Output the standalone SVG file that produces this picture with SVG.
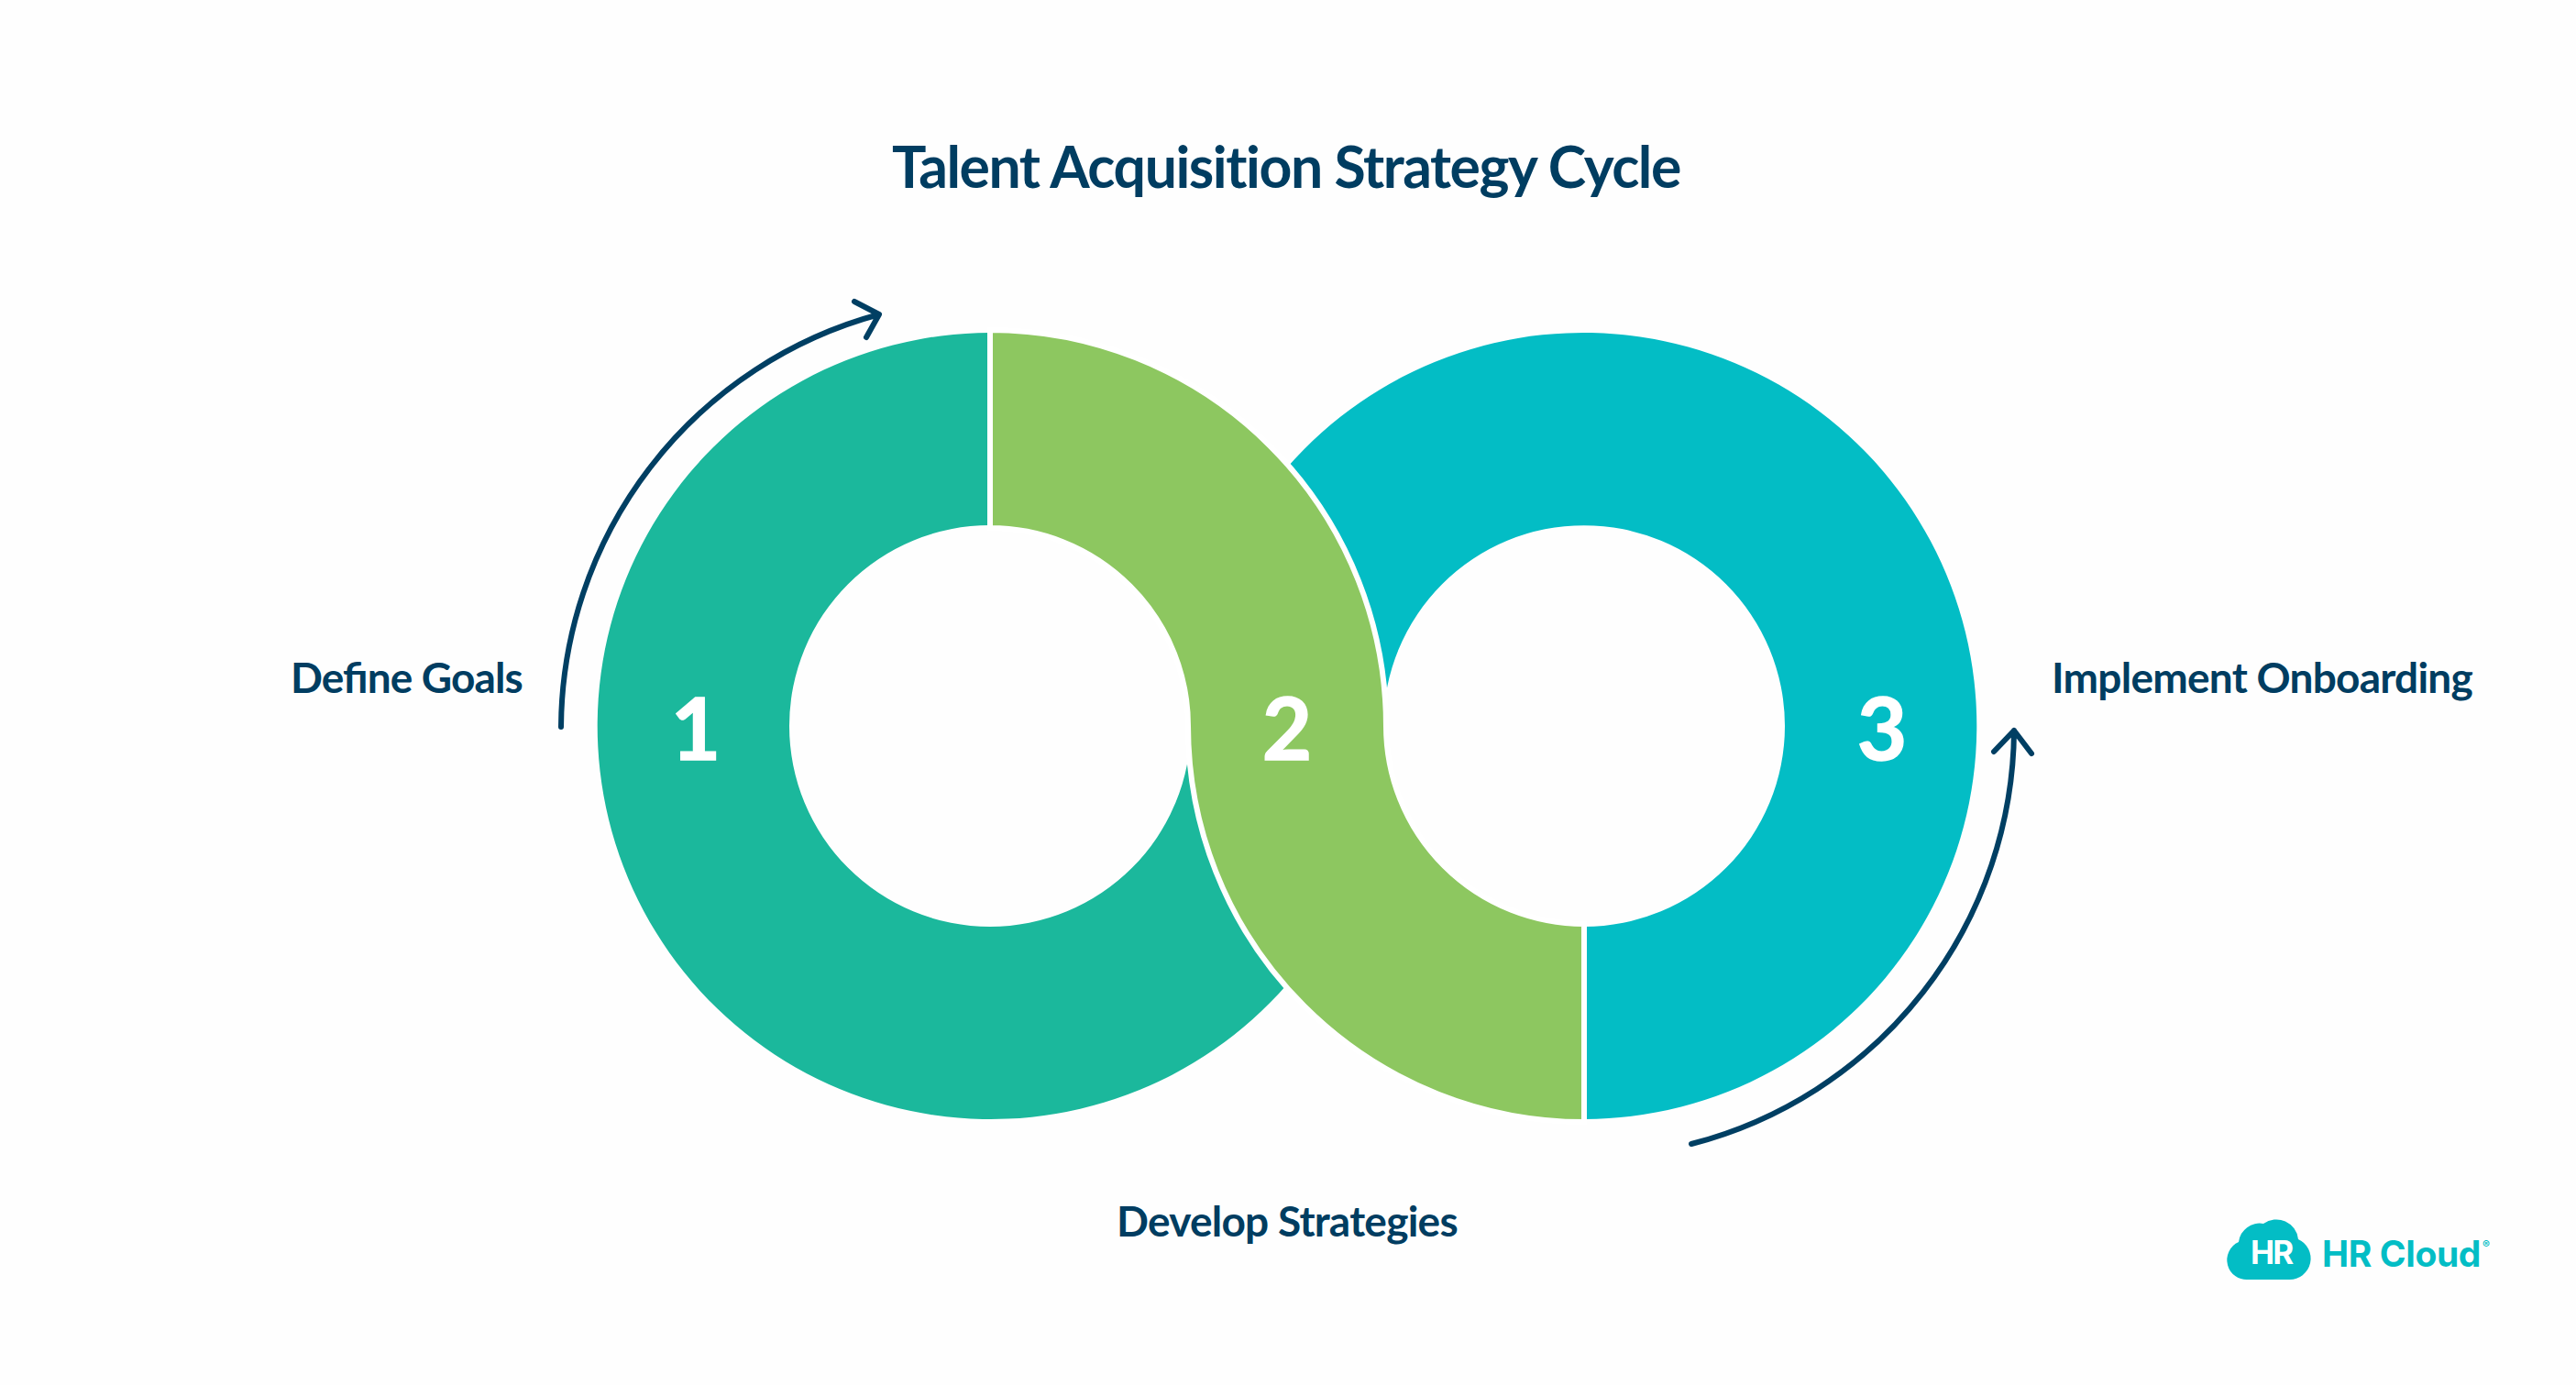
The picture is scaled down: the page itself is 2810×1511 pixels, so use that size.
<svg xmlns="http://www.w3.org/2000/svg" width="2810" height="1511" viewBox="0 0 2810 1511">
<style>
.t{font-family:Lato,"Liberation Sans",sans-serif;font-weight:700;fill:#003d61}
.l{font-size:46px;letter-spacing:-0.75px}
.n{font-family:Lato,"Liberation Sans",sans-serif;font-weight:700;font-size:94px;fill:#fff;stroke:#fff;stroke-width:1.5;text-anchor:middle}
.c{fill:none;stroke:#003f63;stroke-width:6;stroke-linecap:round;stroke-linejoin:round}
.b{font-family:Inter,"Liberation Sans",sans-serif;font-weight:700}
</style>
<rect width="2810" height="1511" fill="#fefefe"/>
<text id="title" class="t" x="973" y="205" font-size="62.5" letter-spacing="-1.45">Talent Acquisition Strategy Cycle</text>
<g id="node-1">
<path d="M1080,363A429,429 0 1 0 1404,1074L1404,792L1299,792A219,219 0 1 1 1080,573Z" fill="#1bb89c"/>
<text class="n" x="759" y="829">1</text>
<text class="t l" x="317" y="756" style="letter-spacing:-0.9px;font-variant-ligatures:common-ligatures;font-feature-settings:'liga' 1">Define Goals</text>
</g>
<g id="node-3">
<path d="M1728,1221A429,429 0 1 0 1404,510L1404,792L1509,792A219,219 0 0 1 1947,792A219,219 0 0 1 1728,1011Z" fill="#03bdc5"/>
<text class="n" x="2053" y="829">3</text>
<text class="t l" x="2238" y="756">Implement Onboarding</text>
</g>
<g id="node-2">
<path d="M1080,360A432,432 0 0 1 1512,792A216,216 0 0 0 1728,1008L1728,1224A432,432 0 0 1 1296,792A216,216 0 0 0 1080,576Z" fill="#8dc760" stroke="#fff" stroke-width="6"/>
<text class="n" x="1404" y="829">2</text>
<text class="t l" x="1218" y="1349">Develop Strategies</text>
</g>
<g id="connectors">
<path class="c" d="M612,793A469,469 0 0 1 959,343M932,329L959,343L945,368"/>
<path class="c" d="M1845,1248A469,469 0 0 0 2197,797M2175,820L2197,797L2216,822"/>
</g>
<g id="logo">
<path d="M2453,1396A21.5,21.5 0 0 1 2442,1355A23,23 0 0 1 2469,1335A24,24 0 0 1 2507,1352A23,23 0 0 1 2497,1396Z" fill="#03bdc5"/>
<text class="b" x="2455" y="1379" font-size="35" fill="#fff" letter-spacing="-2">HR</text>
<text class="b" x="2533" y="1382" font-size="39" fill="#03bdc5" letter-spacing="-0.4">HR Cloud</text>
<text class="b" x="2708" y="1362" font-size="12" fill="#03bdc5" font-weight="400">®</text>
</g>
</svg>
